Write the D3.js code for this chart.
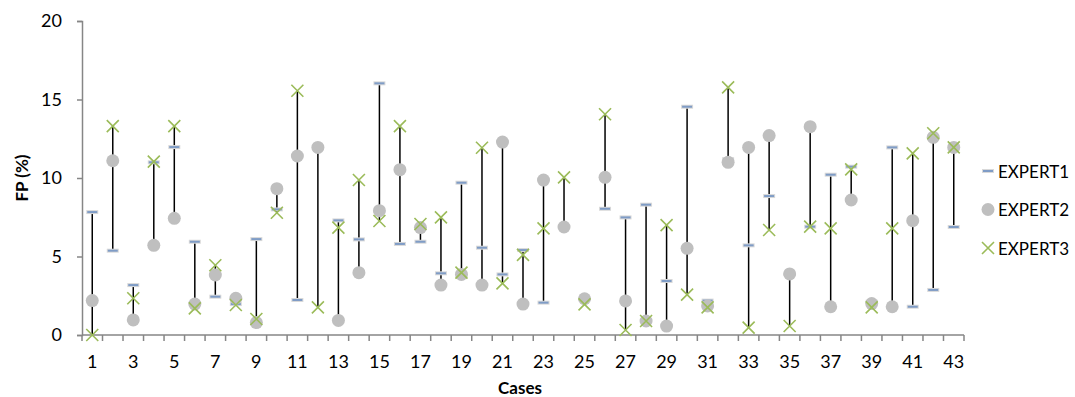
<!DOCTYPE html>
<html>
<head>
<meta charset="utf-8">
<script src="https://cdn.jsdelivr.net/npm/d3@7"></script>
<style>
  body { margin: 0; background: #fff; }
  text { font-family: Lato, "Open Sans", sans-serif; fill: #000; }
</style>
</head>
<body>
<div id="chart"></div>
<script>
// values
const cases = d3.range(1, 44);
const expert1 = [7.83, 5.37, 3.18, 11.0, 11.97, 5.94, 2.44, 1.97, 6.11, 8.0,
  2.23, 11.95, 7.3, 6.09, 16.03, 5.8, 5.94, 3.93, 9.7, 5.56,
  3.86, 5.41, 2.06, 6.9, 2.3, 8.04, 7.49, 8.3, 3.44, 14.54,
  2.19, 11.2, 5.71, 8.85, 3.9, 6.9, 10.21, 10.72, 2.12, 11.95,
  1.8, 2.87, 6.88];
const expert2 = [2.19, 11.1, 0.96, 5.71, 7.43, 1.97, 3.82, 2.34, 0.79, 9.32,
  11.4, 11.95, 0.93, 3.97, 7.92, 10.53, 6.84, 3.18, 3.86, 3.18,
  12.29, 1.97, 9.87, 6.88, 2.31, 10.04, 2.17, 0.89, 0.57, 5.52,
  1.85, 11.0, 11.95, 12.7, 3.89, 13.27, 1.8, 8.6, 2.0, 1.8,
  7.28, 12.59, 11.95];
const expert3 = [0.0, 13.3, 2.34, 11.04, 13.3, 1.7, 4.44, 1.91, 1.02, 7.79,
  15.56, 1.76, 6.84, 9.87, 7.26, 13.3, 7.07, 7.49, 3.97, 11.93,
  3.29, 5.1, 6.79, 10.04, 1.95, 14.06, 0.32, 0.89, 7.0, 2.57,
  1.76, 15.77, 0.47, 6.69, 0.57, 6.9, 6.79, 10.55, 1.76, 6.79,
  11.57, 12.85, 11.95];
const yTicks = [0, 5, 10, 15, 20];
const seriesNames = ["EXPERT1", "EXPERT2", "EXPERT3"];

const W = 1075, H = 397;
const margin = {top: 21, right: 111, bottom: 62, left: 82};
const width = W - margin.left - margin.right,
      height = H - margin.top - margin.bottom;

const svg = d3.select("#chart").append("svg")
    .attr("width", W).attr("height", H);
const g = svg.append("g")
    .attr("transform", `translate(${margin.left},${margin.top})`);

const x = d3.scaleBand().domain(cases).range([0, width]);
const y = d3.scaleLinear().domain([0, 20]).range([height, 0]);

const data = cases.map((c, i) => ({c, e1: expert1[i], e2: expert2[i], e3: expert3[i]}));
const cx = d => x(d.c) + x.bandwidth() / 2;

// y axis
const yAxis = g.append("g")
    .call(d3.axisLeft(y).tickValues(yTicks).tickSize(5).tickPadding(15));
yAxis.selectAll("text").style("font-size", "18px");
yAxis.select(".domain").attr("stroke", "#868686").attr("stroke-width", 1.5);
yAxis.selectAll(".tick line").attr("stroke", "#868686").attr("stroke-width", 1.5);

// x axis: ticks between categories, labels on odd cases
const xAxis = g.append("g").attr("transform", `translate(0,${height})`);
xAxis.append("line").attr("x1", 0).attr("x2", width).attr("y1", 0).attr("y2", 0)
    .attr("stroke", "#868686").attr("stroke-width", 1.5);
xAxis.selectAll(".tk").data(d3.range(0, 44)).join("line")
    .attr("x1", i => i * x.step()).attr("x2", i => i * x.step())
    .attr("y1", 0).attr("y2", 6)
    .attr("stroke", "#868686").attr("stroke-width", 1.5);
xAxis.selectAll(".lbl").data(cases.filter(c => c % 2 === 1)).join("text")
    .attr("x", c => x(c) + x.bandwidth() / 2).attr("y", 33)
    .attr("text-anchor", "middle").style("font-size", "18px").text(c => c);

// axis titles
svg.append("text").attr("transform", `translate(28,${margin.top + height / 2}) rotate(-90)`)
    .attr("text-anchor", "middle").style("font-size", "17px").style("font-weight", "bold")
    .text("FP (%)");
svg.append("text").attr("x", margin.left + width / 2 - 3).attr("y", 394)
    .attr("text-anchor", "middle").style("font-size", "17px").style("font-weight", "bold")
    .text("Cases");

// high-low lines
g.append("g").selectAll("line").data(data).join("line")
    .attr("x1", cx).attr("x2", cx)
    .attr("y1", d => y(Math.max(d.e1, d.e2, d.e3)))
    .attr("y2", d => y(Math.min(d.e1, d.e2, d.e3)))
    .attr("stroke", "#000").attr("stroke-width", 1.5);

function dash(sel, px, py) {
  sel.append("rect").attr("x", px - 6).attr("y", py - 2).attr("width", 12).attr("height", 4)
      .attr("fill", "#D9D9D9");
  sel.append("rect").attr("x", px - 5).attr("y", py - 1).attr("width", 10).attr("height", 2)
      .attr("fill", "#7F9CC6");
}
function cross(sel, px, py) {
  const s = 6;
  sel.append("path").attr("d", `M${px - s},${py - s}L${px + s},${py + s}M${px - s},${py + s}L${px + s},${py - s}`)
      .attr("stroke", "#9BBB59").attr("stroke-width", 1.6).attr("fill", "none");
}

// EXPERT1
const m1 = g.append("g");
data.forEach(d => dash(m1, cx(d), y(d.e1)));
// EXPERT2
g.append("g").selectAll("circle").data(data).join("circle")
    .attr("cx", cx).attr("cy", d => y(d.e2)).attr("r", 6.5).attr("fill", "#BFBFBF");
// EXPERT3
const m3 = g.append("g");
data.forEach(d => cross(m3, cx(d), y(d.e3)));

// legend
const leg = svg.append("g");
const legY = [171, 209.5, 248];
seriesNames.forEach((n, i) => {
  const lx = 988, ly = legY[i];
  if (i === 0) dash(leg, lx, ly);
  if (i === 1) leg.append("circle").attr("cx", lx).attr("cy", ly).attr("r", 6.5).attr("fill", "#BFBFBF");
  if (i === 2) cross(leg, lx, ly);
  leg.append("text").attr("x", 998).attr("y", ly + 6.5).style("font-size", "17px").text(n);
});
</script>
</body>
</html>
